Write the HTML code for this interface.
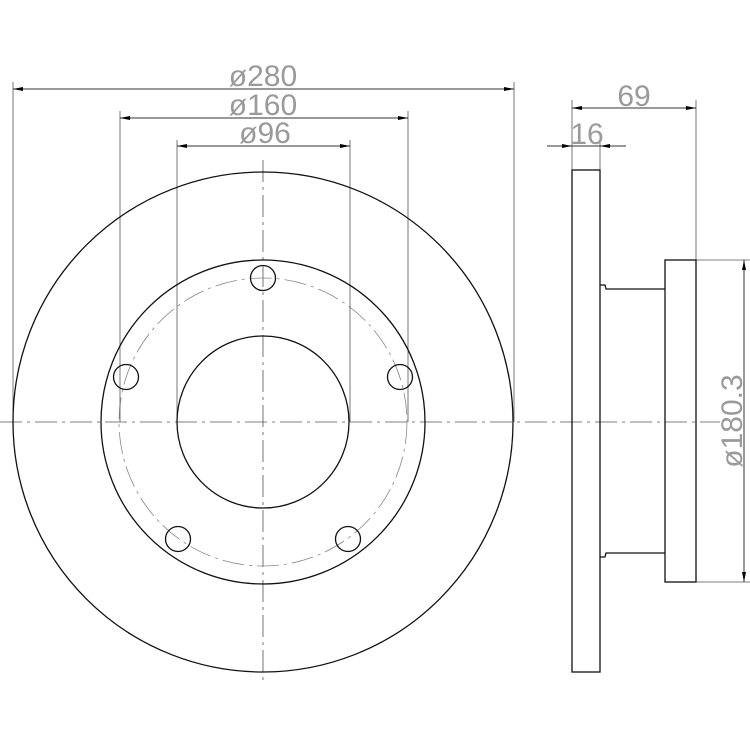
<!DOCTYPE html>
<html><head><meta charset="utf-8"><style>html,body{margin:0;padding:0;background:#fff}svg{display:block}</style></head>
<body>
<svg width="750" height="750" viewBox="0 0 750 750" xmlns="http://www.w3.org/2000/svg">
<defs>
<marker id="a" viewBox="0 0 10 4" refX="10" refY="2" markerWidth="10" markerHeight="4" markerUnits="userSpaceOnUse" orient="auto-start-reverse"><path d="M0,0L10,2L0,4z" fill="#000"/></marker>
</defs>
<g stroke="#555" stroke-width="0.8" fill="none">
<line x1="0" y1="422" x2="720" y2="422" stroke-dasharray="22,5,3,5"/>
<line x1="263" y1="160" x2="263" y2="685" stroke-dasharray="22,5,3,5"/>
<circle cx="263" cy="422" r="144" stroke="#888" stroke-dasharray="22,5,3,5"/>
<line x1="13" y1="82" x2="13" y2="422"/>
<line x1="514" y1="82" x2="514" y2="422"/>
<line x1="120" y1="111" x2="120" y2="422"/>
<line x1="408" y1="111" x2="408" y2="422"/>
<line x1="177" y1="140" x2="177" y2="422"/>
<line x1="350" y1="140" x2="350" y2="422"/>
<line x1="572" y1="100" x2="572" y2="170"/>
<line x1="600" y1="140" x2="600" y2="170"/>
<line x1="696" y1="100" x2="696" y2="260"/>
<line x1="696" y1="260" x2="750" y2="260"/>
<line x1="696" y1="582" x2="750" y2="582"/>
</g>
<g stroke="#333" stroke-width="1" fill="none">
<line x1="13" y1="89" x2="514" y2="89" marker-start="url(#a)" marker-end="url(#a)"/>
<line x1="120" y1="118" x2="408" y2="118" marker-start="url(#a)" marker-end="url(#a)"/>
<line x1="177" y1="146" x2="350" y2="146" marker-start="url(#a)" marker-end="url(#a)"/>
<line x1="572" y1="108" x2="696" y2="108" marker-start="url(#a)" marker-end="url(#a)"/>
<line x1="547" y1="146" x2="572" y2="146" marker-end="url(#a)"/>
<line x1="626" y1="146" x2="600" y2="146" marker-end="url(#a)"/>
<line x1="572" y1="146" x2="600" y2="146"/>
<line x1="744" y1="260" x2="744" y2="582" marker-start="url(#a)" marker-end="url(#a)"/>
</g>
<g stroke="#111" stroke-width="1.3" fill="none">
<circle cx="263" cy="422" r="250"/>
<circle cx="263" cy="422" r="162"/>
<circle cx="263" cy="422" r="86"/>
<circle cx="263" cy="278" r="12.5"/>
<circle cx="126" cy="377" r="12.5"/>
<circle cx="400" cy="377" r="12.5"/>
<circle cx="178" cy="539" r="12.5"/>
<circle cx="348" cy="539" r="12.5"/>
<rect x="572" y="170" width="28" height="502"/>
<rect x="665" y="260" width="31" height="322"/>
<path d="M600,285 L605,285 L606,289 L665,289"/>
<path d="M600,557 L605,557 L606,553 L665,553"/>
</g>
<g font-family="Liberation Sans, sans-serif" font-size="30" fill="#9a9a9a" text-anchor="middle">
<text x="263" y="86">ø280</text>
<text x="263" y="115">ø160</text>
<text x="265" y="143">ø96</text>
<text x="634" y="106">69</text>
<text x="587" y="144">16</text>
<text transform="translate(742,421) rotate(-90)">ø180.3</text>
</g>
</svg>
</body></html>
